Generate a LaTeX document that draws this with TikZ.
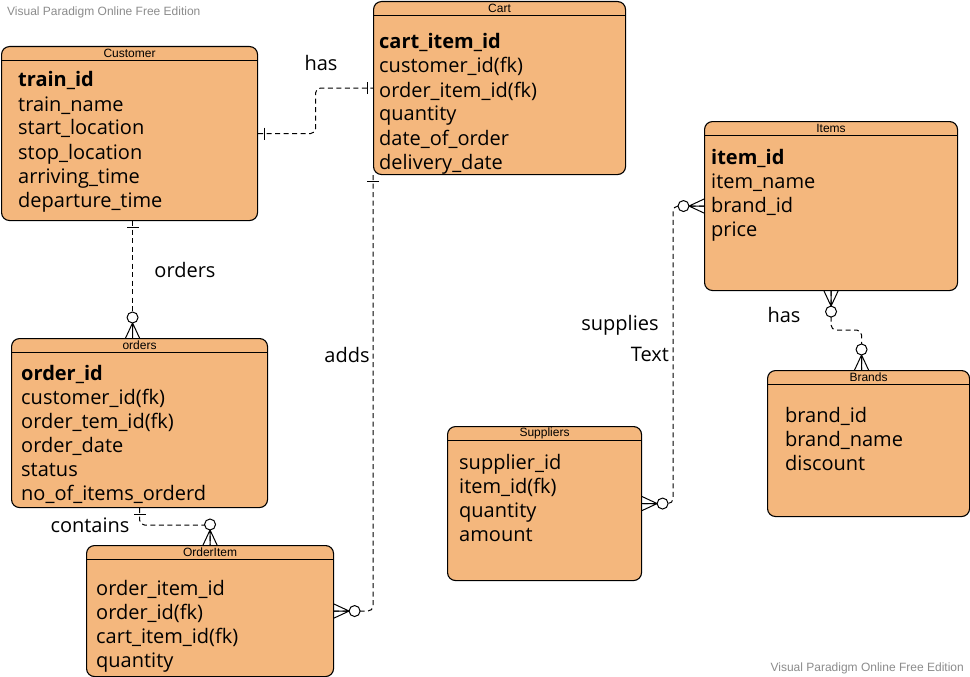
\documentclass[tikz,border=0pt]{standalone}
\usepackage{fontspec}
\setmainfont{Open Sans}
\newfontfamily\vpfont{Liberation Sans}
\usetikzlibrary{calc}
\definecolor{erfill}{RGB}{244,183,125}
\definecolor{markgray}{RGB}{140,140,140}

\begin{document}
\begin{tikzpicture}[x=1pt, y=-1pt,
    entity/.style ={draw, fill=erfill, rounded corners=8, line width=1.1pt, anchor=north west, inner sep=0},
    enttitle/.style ={inner sep=0, font=\vpfont\fontsize{12}{14}\selectfont},
    attr/.style ={anchor=base west, inner sep=0, font=\fontsize{20}{24}\selectfont},
    keyattr/.style ={attr, font=\bfseries\fontsize{20}{24}\selectfont},
    rel/.style ={draw, dash pattern=on 5pt off 3.5pt, line width=1pt, rounded corners=5},
    lbl/.style ={anchor=base, inner sep=0, font=\fontsize{20}{24}\selectfont},
    watermark/.style ={inner sep=0, text=markgray, font=\vpfont\fontsize{12}{14}\selectfont},
    onemark/.pic ={\draw[solid, line width=1pt] (6,-6) -- (6,6);},
    zeromany/.pic ={\draw[solid, line width=1pt] (0,-7) -- (15,0) -- (0,7) (0,0) -- (15,0);
                    \draw[solid, line width=1pt, fill=white] (20.5,0) circle[radius=5.5];}]
   \useasboundingbox[fill=white] (0,0) rectangle (970,677);
   \node[watermark, anchor=base west] (wm1) at (7,16) {Visual Paradigm Online Free Edition};
   \node[watermark, anchor=base east] (wm2) at (964,671) {Visual Paradigm Online Free Edition};

   \node[entity, minimum width=256, minimum height=174] (cust) at (1,46) {};
   \node[entity, minimum width=252, minimum height=173] (cart) at (373,1) {};
   \node[entity, minimum width=253, minimum height=169] (items) at (704,121) {};
   \node[entity, minimum width=202, minimum height=146] (brands) at (767,370) {};
   \node[entity, minimum width=194, minimum height=154] (sup) at (447,426) {};
   \node[entity, minimum width=256, minimum height=169] (ords) at (11,338) {};
   \node[entity, minimum width=247, minimum height=131] (oitem) at (86,545) {};

   \foreach \e/\t in {cust/Customer, cart/Cart, items/Items, brands/Brands, sup/Suppliers, ords/orders, oitem/OrderItem} {
     \node[enttitle] (\e-t) at ($(\e.north)+(0,7)$) {\t};
     \draw[line width=0.9pt] ($(\e.north west)+(0,14)$) -- ($(\e.north east)+(0,14)$);
   }

   % attributes
   \node[keyattr] (cust-k) at (18,87) {train\_id};
   \foreach \a [count=\i] in {train\_name, start\_location, stop\_location, arriving\_time, departure\_time}
     \node[attr] (cust-\i) at (18,87+24*\i) {\a};
   \node[keyattr] (cart-k) at (379,49) {cart\_item\_id};
   \foreach \a [count=\i] in {customer\_id(fk), order\_item\_id(fk), quantity, date\_of\_order, delivery\_date}
     \node[attr] (cart-\i) at (379,49+24*\i) {\a};
   \node[keyattr] (items-k) at (711,164) {item\_id};
   \foreach \a [count=\i] in {item\_name, brand\_id, price}
     \node[attr] (items-\i) at (711,164+24*\i) {\a};
   \foreach \a [count=\i] in {brand\_id, brand\_name, discount}
     \node[attr] (brands-\i) at (785,398+24*\i) {\a};
   \foreach \a [count=\i] in {supplier\_id, item\_id(fk), quantity, amount}
     \node[attr] (sup-\i) at (459,445+24*\i) {\a};
   \node[keyattr] (ords-k) at (21,380) {order\_id};
   \foreach \a [count=\i] in {customer\_id(fk), order\_tem\_id(fk), order\_date, status, no\_of\_items\_orderd}
     \node[attr] (ords-\i) at (21,380+24*\i) {\a};
   \foreach \a [count=\i] in {order\_item\_id, order\_id(fk), cart\_item\_id(fk), quantity}
     \node[attr] (oitem-\i) at (96,571+24*\i) {\a};

   % relationships
   \draw[rel] (cust.east) -| ($(cust.east)!.5!(cart.west)$) |- (cart.west);
   \draw[rel] ($(cust.south)+(3,0)$) coordinate (c1) -- (c1 |- ords.north);
   \draw[rel] (cart.south west) |- (oitem.east);
   \draw[rel] (ords.south) |- ($(oitem.north)+(0,-20)$) -- (oitem.north);
   \draw[rel] (items.west) -| ($(items.west)!.5!(sup.east)$) |- (sup.east);
   \coordinate (b1) at ($(brands.north)+(-7,0)$);
   \draw[rel] (items.south) |- ($(b1)+(0,-40)$) -- (b1);

   \pic at (cust.east) {onemark};
   \pic[rotate=180] at (cart.west) {onemark};
   \pic[rotate=-90] at (c1) {onemark};
   \pic[rotate=90] at (c1 |- ords.north) {zeromany};
   \pic[rotate=-90] at (cart.south west) {onemark};
   \pic at (oitem.east) {zeromany};
   \pic[rotate=-90] at (ords.south) {onemark};
   \pic[rotate=90] at (oitem.north) {zeromany};
   \pic[rotate=180] at (items.west) {zeromany};
   \pic at (sup.east) {zeromany};
   \pic[rotate=-90] at (items.south) {zeromany};
   \pic[rotate=90] at (b1) {zeromany};

   \node[lbl] (has-a) at (321,71) {has};
   \node[lbl] (orders-l) at (185,277) {orders};
   \node[lbl] (adds-l) at (347,362) {adds};
   \node[lbl] (contains-l) at (90,532) {contains};
   \node[lbl] (supplies-l) at (620,330) {supplies};
   \node[lbl] (text-l) at (650,361) {Text};
   \node[lbl] (has-b) at (784,322) {has};
 \end{tikzpicture}
\end{document}
